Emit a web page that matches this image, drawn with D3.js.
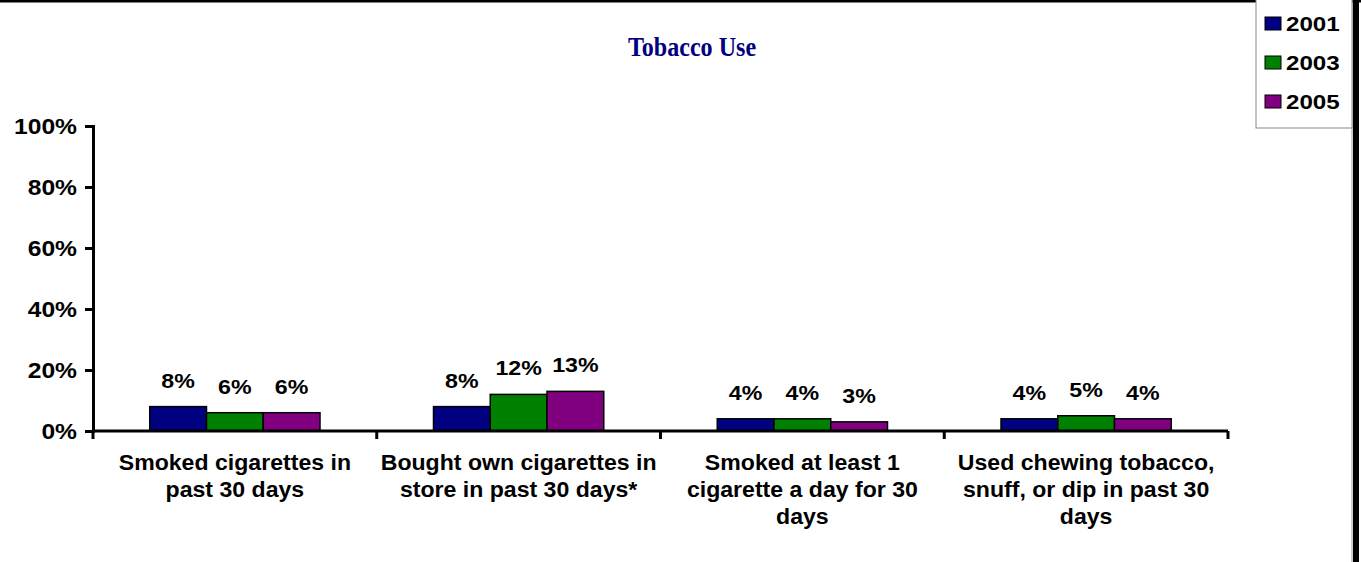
<!DOCTYPE html>
<html>
<head>
<meta charset="UTF-8">
<script src="https://cdn.jsdelivr.net/npm/d3@7"></script>
<style>
  body { margin: 0; background: #fff; }
  text { font-family: Arial, "Liberation Sans", sans-serif; font-weight: bold; }
</style>
</head>
<body>
<script>
// chart data
var categories = [
  ["Smoked cigarettes in", "past 30 days"],
  ["Bought own cigarettes in", "store in past 30 days*"],
  ["Smoked at least 1", "cigarette a day for 30", "days"],
  ["Used chewing tobacco,", "snuff, or dip in past 30", "days"]
];
var years = ["2001", "2003", "2005"];
var values2001 = [8, 8, 4, 4];
var values2003 = [6, 12, 4, 5];
var values2005 = [6, 13, 3, 4];
var yTicks = [0, 20, 40, 60, 80, 100];
var colors = ["#000080", "#008000", "#800080"];

var series = [values2001, values2003, values2005];
var W = 1361, H = 562;

// the original picture is a bit wider than tall, so text gets stretched sideways
function stretch(sel, sx) {
  sel.each(function () {
    var t = d3.select(this);
    var tx = +t.attr("x") || 0, ty = +t.attr("y") || 0;
    t.attr("x", 0).attr("y", 0)
      .attr("transform", "translate(" + tx + "," + ty + ") scale(" + sx + ",1)");
  });
}

var svg = d3.select("body").append("svg")
  .attr("width", W)
  .attr("height", H);

// frame
svg.append("rect").attr("x", 0).attr("y", 0).attr("width", W).attr("height", H).attr("fill", "#fff");
svg.append("line").attr("x1", 0).attr("x2", W).attr("y1", 1).attr("y2", 1)
  .attr("stroke", "#000").attr("stroke-width", 3);
svg.append("line").attr("x1", 1352).attr("x2", 1352).attr("y1", 0).attr("y2", H)
  .attr("stroke", "#999").attr("stroke-width", 1);
svg.append("line").attr("x1", 1356).attr("x2", 1356).attr("y1", 0).attr("y2", H)
  .attr("stroke", "#000").attr("stroke-width", 6);

// title
svg.append("text")
  .attr("x", 692).attr("y", 56)
  .attr("text-anchor", "middle")
  .style("font-family", "'Liberation Serif', 'Times New Roman', serif")
  .style("font-size", "28px")
  .attr("fill", "#000080")
  .text("Tobacco Use")
  .call(stretch, 0.86);

var x0 = d3.scaleBand()
  .domain(d3.range(categories.length))
  .range([93, 1228])
  .padding(0);

var bw = x0.bandwidth();
var x1 = d3.scaleBand()
  .domain(d3.range(years.length))
  .range([bw * 0.2, bw * 0.8])
  .padding(0);

var y = d3.scaleLinear().domain([0, 100]).range([431, 126]);

// y axis
var yAxis = svg.append("g")
  .attr("transform", "translate(93,0)")
  .call(d3.axisLeft(y).tickValues(yTicks).tickSize(8).tickPadding(8)
    .tickFormat(function (d) { return d + "%"; }));
yAxis.select(".domain").attr("stroke", "#000").attr("stroke-width", 3);
yAxis.selectAll(".tick line").attr("stroke", "#000").attr("stroke-width", 3);
yAxis.selectAll(".tick text")
  .attr("fill", "#000")
  .attr("dy", "0.36em")
  .style("font-size", "22px")
  .style("font-family", "Arial, 'Liberation Sans', sans-serif")
  .style("font-weight", "bold")
  .call(stretch, 1.12);

// bars
var groups = svg.selectAll(".grp")
  .data(categories)
  .enter().append("g")
  .attr("class", "grp")
  .attr("transform", function (d, i) { return "translate(" + x0(i) + ",0)"; });

groups.selectAll("rect")
  .data(function (d, i) { return series.map(function (s, j) { return { s: j, v: s[i] }; }); })
  .enter().append("rect")
  .attr("x", function (d) { return x1(d.s); })
  .attr("y", function (d) { return y(d.v); })
  .attr("width", x1.bandwidth())
  .attr("height", function (d) { return y(0) - y(d.v); })
  .attr("fill", function (d) { return colors[d.s]; })
  .attr("stroke", "#000")
  .attr("stroke-width", 1.5);

groups.selectAll(".val")
  .data(function (d, i) { return series.map(function (s, j) { return { s: j, v: s[i] }; }); })
  .enter().append("text")
  .attr("class", "val")
  .attr("x", function (d) { return x1(d.s) + x1.bandwidth() / 2; })
  .attr("y", function (d) { return y(d.v) - 19; })
  .attr("text-anchor", "middle")
  .style("font-size", "20px")
  .attr("fill", "#000")
  .text(function (d) { return d.v + "%"; })
  .call(stretch, 1.16);

// x axis baseline and boundary ticks
var xAxis = svg.append("g").attr("transform", "translate(0," + y(0) + ")");
xAxis.append("line")
  .attr("x1", x0.range()[0]).attr("x2", x0.range()[1])
  .attr("y1", 0).attr("y2", 0)
  .attr("stroke", "#000").attr("stroke-width", 3);
var edges = x0.domain().map(function (i) { return x0(i); }).concat([x0.range()[1]]);
xAxis.selectAll(".edge")
  .data(edges)
  .enter().append("line")
  .attr("x1", function (d) { return d; }).attr("x2", function (d) { return d; })
  .attr("y1", 0).attr("y2", 8)
  .attr("stroke", "#000").attr("stroke-width", 3);

// category labels
var labels = svg.selectAll(".cat")
  .data(categories)
  .enter().append("text")
  .attr("class", "cat")
  .attr("text-anchor", "middle")
  .attr("transform", function (d, i) { return "translate(" + (x0(i) + bw / 2) + ",0) scale(1.05,1)"; })
  .style("font-size", "22px")
  .attr("fill", "#000");
labels.selectAll("tspan")
  .data(function (d) { return d; })
  .enter().append("tspan")
  .attr("x", 0)
  .attr("y", function (d, k) { return 470 + k * 27; })
  .text(function (d) { return d; });

// legend
var lg = svg.append("g");
lg.append("rect")
  .attr("x", 1256).attr("y", -1).attr("width", 96).attr("height", 129)
  .attr("fill", "#fff").attr("stroke", "#888").attr("stroke-width", 1);
var items = lg.selectAll(".item")
  .data(years)
  .enter().append("g")
  .attr("transform", function (d, i) { return "translate(0," + (23 + i * 39) + ")"; });
items.append("rect")
  .attr("x", 1265).attr("y", -6).attr("width", 16).attr("height", 13)
  .attr("fill", function (d, i) { return colors[i]; })
  .attr("stroke", "#000").attr("stroke-width", 1);
items.append("text")
  .attr("x", 1286).attr("y", 8)
  .style("font-size", "21px")
  .attr("fill", "#000")
  .text(function (d) { return d; })
  .call(stretch, 1.15);
</script>
</body>
</html>
